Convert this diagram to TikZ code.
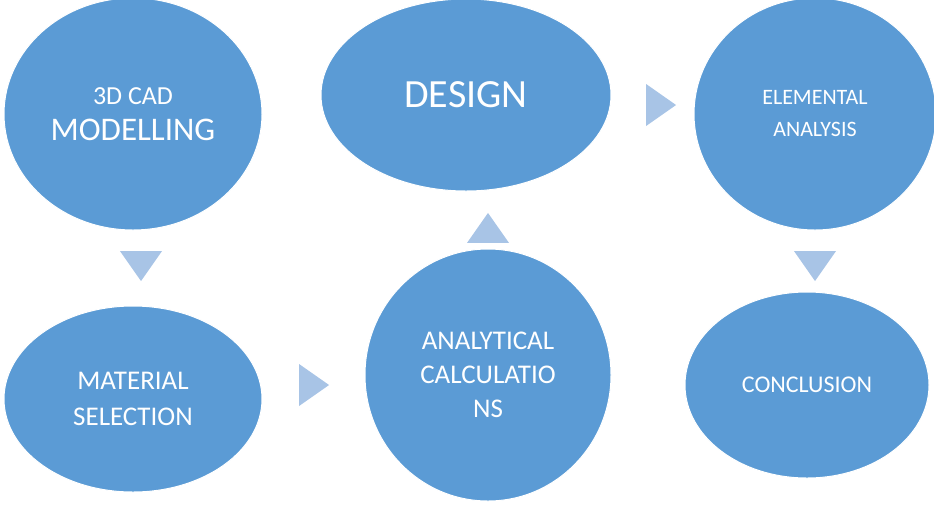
\documentclass[tikz,border=0pt]{standalone}
\usepackage{fontspec}
\setmainfont{Carlito}
\usetikzlibrary{shapes.geometric}
\definecolor{blob}{HTML}{5B9BD5}
\definecolor{tip}{HTML}{A8C4E6}
\tikzset{
  stage/.style={ellipse, fill=blob, draw=white, line width=1pt, text=white, align=center, inner sep=0pt},
  arr/.style={isosceles triangle, isosceles triangle apex angle=70, fill=tip, minimum width=40pt, minimum height=30pt, inner sep=0pt}
}
\begin{document}
\begin{tikzpicture}[x=1pt,y=-1pt]
 \useasboundingbox (0,0) rectangle (934,507);
  \node[stage, minimum width=258pt, minimum height=232pt, font=\fontsize{26}{30}\selectfont] (cad) at (133,114) {3D CAD\\[6pt]\fontsize{33}{36}\selectfont MODELLING};
  \node[stage, minimum width=290pt, minimum height=192pt, font=\fontsize{40}{44}\selectfont] (design) at (466,95) {DESIGN};
  \node[stage, minimum width=242pt, minimum height=232pt, font=\fontsize{22}{32}\selectfont] (fea) at (815,114) {ELEMENTAL\\ANALYSIS};
  \node[stage, minimum width=258pt, minimum height=186pt, font=\fontsize{27}{36}\selectfont] (mat) at (133,399) {MATERIAL\\SELECTION};
  \node[stage, minimum width=246pt, minimum height=252pt, font=\fontsize{27}{34}\selectfont] (calc) at (488,375) {ANALYTICAL\\CALCULATIO\\NS};
  \node[stage, minimum width=244pt, minimum height=186pt, font=\fontsize{24}{30}\selectfont] (end) at (807,385) {CONCLUSION};
  % arrows between stages
  \node[arr, rotate=-90] (a1) at (141,262) {};
  \node[arr] (a2) at (310,385) {};
  \node[arr, rotate=90] (a3) at (488,232) {};
  \node[arr] (a4) at (657,105) {};
  \node[arr, rotate=-90] (a5) at (815,262) {};
\end{tikzpicture}
\end{document}
